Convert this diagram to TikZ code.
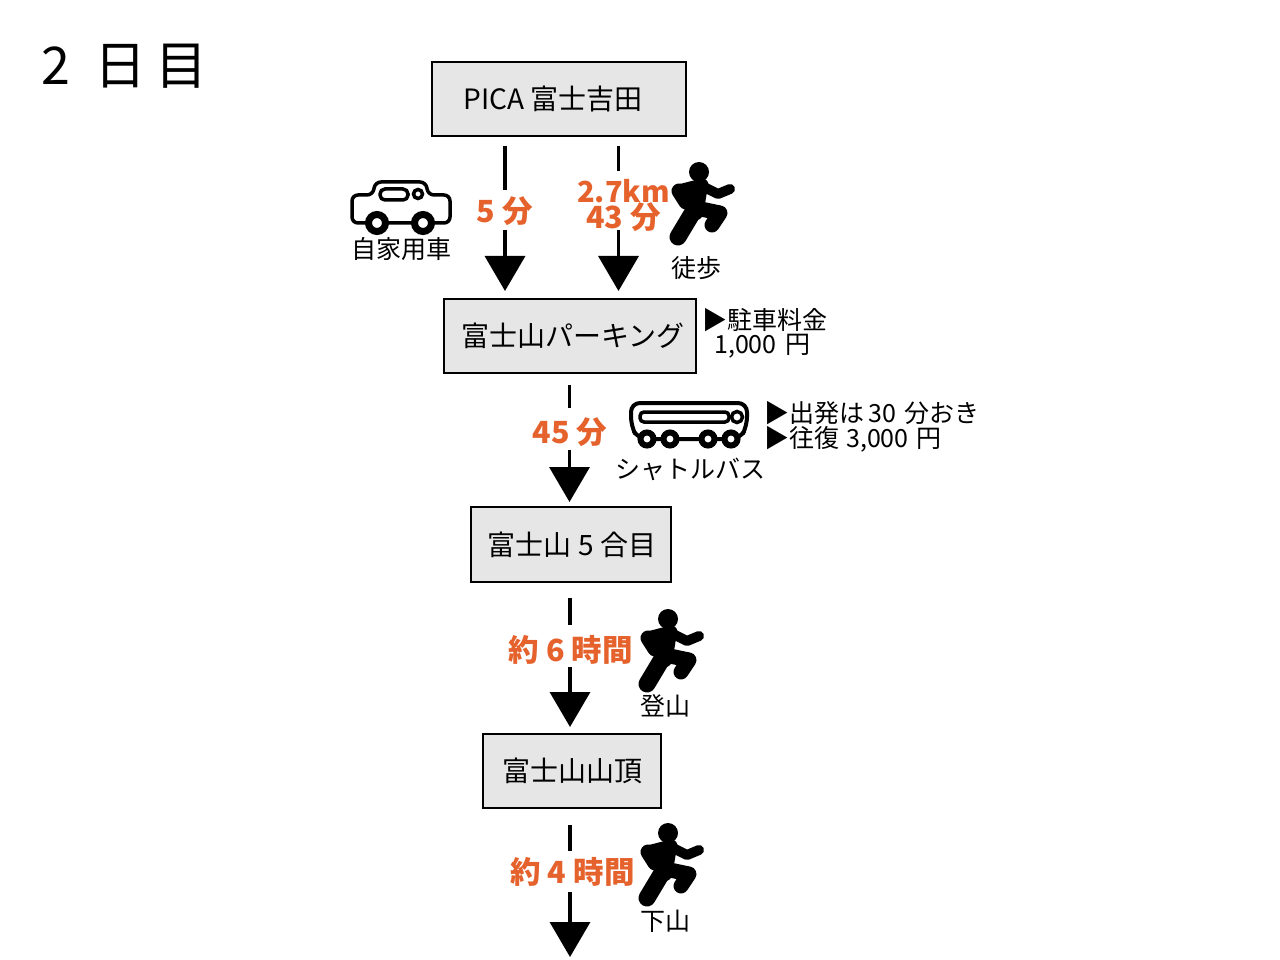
\documentclass[tikz,border=0pt]{standalone}
\usepackage{fontspec}
\setmainfont{Noto Sans CJK JP}
\usetikzlibrary{arrows.meta}
\definecolor{accent}{HTML}{E5622D}
\definecolor{boxfill}{HTML}{E6E6E6}
\newcommand{\fsz}[1]{\fontsize{#1}{#1}\selectfont}
\newcommand{\timelabel}[2]{\smash{\raisebox{-#1pt}{#2}}}
\tikzset{
  box/.style={draw=black,line width=2pt,fill=boxfill,inner sep=0pt,font=\fsz{28}},
  flow/.style={draw=black,line width=3.5pt,-{Triangle[width=40pt,length=35pt]}},
  time/.style={fill=white,inner xsep=1pt,inner ysep=0pt,text=accent,font=\bfseries\fsz{30.5},align=center},
  note/.style={inner sep=0pt,font=\fsz{25},align=left,anchor=west},
  iconcap/.style={inner sep=0pt,font=\fsz{25}},
  runner/.pic={
    \fill (0,0) circle (10);
    \draw[line width=13pt,line cap=round,line join=round] (-20,19) -- (3,13);
    \draw[line width=10pt,line cap=round,line join=round] (3,14) -- (19,22) -- (31,17);
    \draw[line width=15pt,line cap=round,line join=round] (-20,19) -- (-13,30);
    \draw[line width=17pt,line cap=round,line join=round] (0,16) -- (-4,40);
    \draw[line width=17pt,line cap=round] (-6,40) -- (-21,65);
    \draw[line width=15pt,line cap=round,line join=round] (-3,36) -- (21,41) -- (13,53);
  },
  icon/.style={line width=3.5pt,draw=black}
}
\begin{document}
\begin{tikzpicture}[x=1pt,y=-1pt]
\useasboundingbox (0,0) rectangle (1280,960);
% title
\node[inner sep=0pt,font=\fsz{52}] (title) at (124.5,66) {2\hspace{25pt}日\hspace{9pt}目};
% boxes
\node[box,minimum width=254pt,minimum height=74pt] (pica) at (559,99) {\hspace{-12pt}\raisebox{-2pt}{PICA 富士吉田}};
\node[box,minimum width=252pt,minimum height=74pt] (park) at (570,336) {\hspace{6pt}富士山パーキング};
\node[box,minimum width=200pt,minimum height=75pt] (five) at (571,544.5) {\hspace{2pt}富士山 5 合目};
\node[box,minimum width=178pt,minimum height=74pt] (peak) at (572,771) {富士山山頂};
% column guides and free end
\coordinate (carx) at (505,0);
\coordinate (walkx) at (618.5,0);
\coordinate (busx) at (569.5,0);
\coordinate (climbx) at (570,0);
\coordinate (endpt) at (570,967);
% connectors
\draw[flow,shorten <=9pt,shorten >=7pt] (pica.south -| carx) -- (park.north -| carx);
\draw[flow,shorten <=9pt,shorten >=7pt] (pica.south -| walkx) -- (park.north -| walkx);
\draw[flow,shorten <=11pt,shorten >=4pt] (park.south -| busx) -- (five.north -| busx);
\draw[flow,shorten <=15pt,shorten >=6pt] (five.south -| climbx) -- (peak.north -| climbx);
\draw[flow,shorten <=16pt,shorten >=10pt] (peak.south -| climbx) -- (endpt);
% times
\node[time,minimum height=40pt] (t1) at (505,210) {\timelabel{12.8}{5 分}};
\node[time,anchor=south,inner xsep=0pt] (t2) at (623.5,230) {\rule{0pt}{31pt}{\fsz{29}2.7km}\\[-3pt]\raisebox{1pt}[\height][0pt]{43 分}};
\node[time,minimum height=42pt] (t3) at (570,429) {\timelabel{14.8}{45 分}};
\node[time,minimum height=42pt] (t4) at (571,646) {\timelabel{15.8}{約 6 時間}};
\node[time,minimum height=41pt] (t5) at (572.5,871.5) {\timelabel{12.3}{約 4 時間}};
% runners
\pic at (699,172) {runner};
\pic at (668,619) {runner};
\pic at (668,833) {runner};
% car
\draw[icon,rounded corners=6pt] (352,195) -- (352,223) -- (450,223) -- (450,195) -- (428,195) -- (426,182) -- (375,182) -- (373,195) -- cycle;
\draw[icon,rounded corners=5pt] (380,189) rectangle (408,200);
\draw[icon,fill=white] (418,194) circle (4.5);
\draw[icon,line width=7pt,fill=white] (377,223) circle (8.5);
\draw[icon,line width=7pt,fill=white] (423,223) circle (8.5);
\node[iconcap] (carcap) at (401,249) {自家用車};
\node[iconcap] (walkcap) at (696,268) {徒歩};
\node[iconcap] (upcap) at (665,706) {登山};
\node[iconcap] (downcap) at (665,921) {下山};
% bus
\draw[icon,line width=4pt,rounded corners=9pt,fill=white] (631,403) -- (747,403) -- (747,426) -- (740,439) -- (638,439) -- (631,426) -- cycle;
\draw[icon,rounded corners=4pt] (640,412) rectangle (729,422);
\draw[icon,fill=white] (737,417) circle (5.5);
\foreach \wx in {647,670,708,731}{\draw[icon,line width=6pt,fill=white] (\wx,439) circle (6.5);}
\node[iconcap] (buscap) at (690,469) {シャトルバス};
% notes
\node[note] (n1) at (702,320) {▶駐車料金};
\node[note] (n2) at (714,346) {1,000\hspace{9pt}円};
\node[note] (n3) at (764,413) {▶出発は\hspace{4pt}30\hspace{9pt}分おき};
\node[note] (n4) at (764,439) {▶往復\hspace{7pt}3,000\hspace{8pt}円};
\end{tikzpicture}
\end{document}
